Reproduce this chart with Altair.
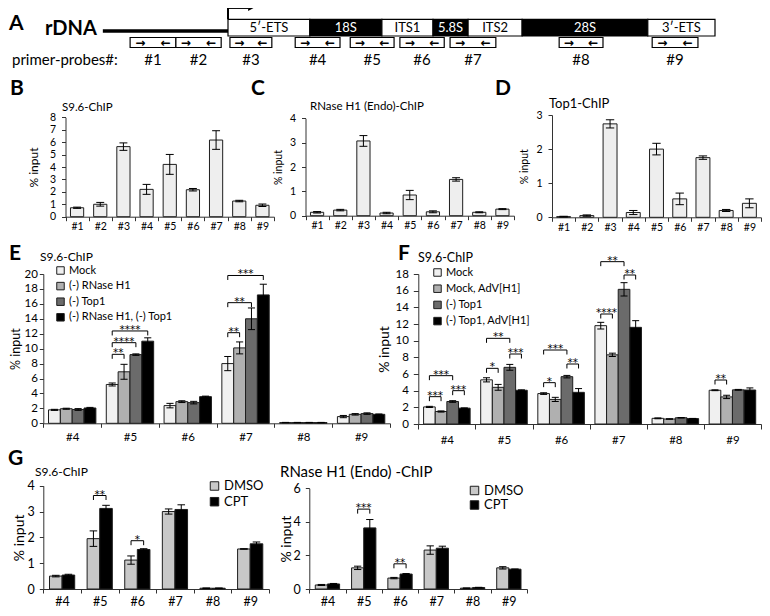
import altair as alt
import pandas as pd

W, H = 754, 600
FONT = "Lato"
AST_FONT = "DejaVu Sans"
AXC = "#333333"
EDGE = "#1e1e1e"

# ---------------- Panel A: rDNA schematic (schematic units, transcribed unit = 0..100)
A_segments = ["5′-ETS", "18S", "ITS1", "5.8S", "ITS2", "28S", "3′-ETS"]
A_seg_kind = ["spacer", "rRNA", "spacer", "rRNA", "spacer", "rRNA", "spacer"]
A_seg_start = [0.0, 16.8, 31.6, 42.1, 49.3, 60.4, 86.2]
A_seg_end = [16.8, 31.6, 42.1, 49.3, 60.4, 86.2, 100.0]
A_upstream_start = -25.7
A_tss = 0.0
A_primers = ["#1", "#2", "#3", "#4", "#5", "#6", "#7", "#8", "#9"]
A_primer_start = [-20.1, -10.7, 0.4, 13.8, 25.1, 35.3, 45.6, 68.0, 87.1]
A_primer_end = [-10.7, -1.4, 9.0, 23.0, 34.1, 44.4, 55.0, 77.0, 96.5]

# ---------------- Panels B, C, D
BCD_probes = ["#1", "#2", "#3", "#4", "#5", "#6", "#7", "#8", "#9"]
B_values = [0.72, 1.0, 5.64, 2.2, 4.21, 2.17, 6.17, 1.26, 0.92]
B_errors = [0.05, 0.15, 0.3, 0.4, 0.8, 0.1, 0.75, 0.06, 0.1]
C_values = [0.14, 0.23, 3.07, 0.11, 0.85, 0.16, 1.49, 0.14, 0.27]
C_errors = [0.03, 0.03, 0.22, 0.03, 0.19, 0.04, 0.07, 0.02, 0.02]
D_values = [0.02, 0.05, 2.74, 0.14, 2.0, 0.54, 1.75, 0.2, 0.41]
D_errors = [0.01, 0.02, 0.12, 0.06, 0.17, 0.17, 0.05, 0.03, 0.13]

# ---------------- Panels E, F, G
EFG_probes = ["#4", "#5", "#6", "#7", "#8", "#9"]

E_series = ["Mock", "(-) RNase H1", "(-) Top1", "(-) RNase H1, (-) Top1"]
E_mock = [1.8, 5.2, 2.37, 8.0, 0.1, 0.9]
E_mock_err = [0.07, 0.2, 0.3, 0.95, 0.02, 0.15]
E_rnh = [1.95, 6.9, 2.9, 10.1, 0.1, 1.2]
E_rnh_err = [0.07, 1.0, 0.12, 0.8, 0.02, 0.1]
E_top1 = [1.85, 9.2, 2.77, 14.0, 0.1, 1.3]
E_top1_err = [0.12, 0.1, 0.17, 1.45, 0.02, 0.1]
E_both = [2.05, 11.0, 3.57, 17.2, 0.1, 1.2]
E_both_err = [0.08, 0.45, 0.07, 1.43, 0.02, 0.05]
E_sig_probe = ["#5", "#5", "#5", "#7", "#7", "#7"]
E_sig_from = ["Mock"] * 6
E_sig_to = ["(-) RNase H1", "(-) Top1", "(-) RNase H1, (-) Top1",
            "(-) RNase H1", "(-) Top1", "(-) RNase H1, (-) Top1"]
E_sig_height = [9.24, 10.8, 12.37, 12.14, 16.16, 19.8]
E_sig_label = ["**", "****", "****", "**", "**", "***"]

F_series = ["Mock", "Mock, AdV[H1]", "(-) Top1", "(-) Top1, AdV[H1]"]
F_mock = [2.05, 5.3, 3.65, 11.8, 0.68, 4.05]
F_mock_err = [0.07, 0.25, 0.1, 0.4, 0.05, 0.05]
F_adv = [1.5, 4.4, 2.95, 8.3, 0.6, 3.25]
F_adv_err = [0.07, 0.35, 0.25, 0.2, 0.03, 0.2]
F_top1 = [2.7, 6.8, 5.68, 16.16, 0.75, 4.1]
F_top1_err = [0.1, 0.35, 0.15, 0.8, 0.03, 0.05]
F_both = [1.9, 4.05, 3.8, 11.6, 0.65, 4.08]
F_both_err = [0.03, 0.05, 0.45, 0.8, 0.02, 0.25]
F_sig_probe = ["#4", "#4", "#4", "#5", "#5", "#5", "#6", "#6", "#6", "#7", "#7", "#7", "#9"]
F_sig_from = ["Mock", "Mock", "(-) Top1", "Mock", "Mock", "(-) Top1", "Mock", "Mock", "(-) Top1",
              "Mock", "Mock", "(-) Top1", "Mock"]
F_sig_to = ["Mock, AdV[H1]", "(-) Top1", "(-) Top1, AdV[H1]",
            "Mock, AdV[H1]", "(-) Top1", "(-) Top1, AdV[H1]",
            "Mock, AdV[H1]", "(-) Top1", "(-) Top1, AdV[H1]",
            "Mock, AdV[H1]", "(-) Top1", "(-) Top1, AdV[H1]",
            "Mock, AdV[H1]"]
F_sig_height = [3.28, 5.8, 4.0, 6.68, 10.28, 8.4, 4.96, 8.88, 7.2, 13.2, 19.48, 17.88, 5.28]
F_sig_label = ["***", "***", "***", "*", "**", "***", "*", "***", "**", "****", "**", "**", "**"]

G_series = ["DMSO", "CPT"]
G1_dmso = [0.50, 1.95, 1.12, 3.0, 0.03, 1.55]
G1_dmso_err = [0.03, 0.3, 0.16, 0.1, 0.01, 0.01]
G1_cpt = [0.54, 3.12, 1.53, 3.08, 0.03, 1.75]
G1_cpt_err = [0.03, 0.12, 0.03, 0.18, 0.01, 0.07]
G1_sig_probe = ["#5", "#6"]
G1_sig_height = [3.62, 1.87]
G1_sig_label = ["**", "*"]

G2_dmso = [0.24, 1.26, 0.65, 2.32, 0.05, 1.26]
G2_dmso_err = [0.03, 0.1, 0.04, 0.25, 0.01, 0.07]
G2_cpt = [0.30, 3.64, 0.89, 2.43, 0.09, 1.18]
G2_cpt_err = [0.03, 0.5, 0.03, 0.12, 0.01, 0.01]
G2_sig_probe = ["#5", "#6"]
G2_sig_height = [4.76, 1.5]
G2_sig_label = ["***", "**"]

PANEL_TITLES = ["S9.6-ChIP", "RNase H1 (Endo)-ChIP", "Top1-ChIP", "S9.6-ChIP", "S9.6-ChIP",
                "S9.6-ChIP", "RNase H1 (Endo) -ChIP"]
PANEL_LETTERS = ["A", "B", "C", "D", "E", "F", "G"]


# ---------------- helpers
def text_label(text, x, y, size, weight="normal", font=FONT, align="left", baseline="middle"):
    return alt.Chart(pd.DataFrame({"t": [text]})).mark_text(
        x=x, y=y, fontSize=size, fontWeight=weight, font=font, align=align,
        baseline=baseline, color="black").encode(text="t:N")


def bar_panel(cats, series, vals, errs, colors, xr, yr, ydom, yticks, group_frac,
              tick_fs, xlab_pad, ylab_pad, tick_size, ytitle_fs, ytitle_pad,
              legend=None, sig=None):
    ns = len(series)
    bw = group_frac / ns
    cw = bw * 0.6
    n = len(cats)
    rows = []
    for si, s in enumerate(series):
        for gi, c in enumerate(cats):
            xc = gi + (si - (ns - 1) / 2.0) * bw
            v = vals[si][gi]
            e = errs[si][gi]
            rows.append(dict(series=s, probe=c, value=v, err=e, xc=xc,
                             xl=xc - bw / 2, xr=xc + bw / 2, cl=xc - cw / 2, cr=xc + cw / 2,
                             lo=v - e, hi=v + e, base=0.0))
    df = pd.DataFrame(rows)
    xs = alt.Scale(domain=[-0.5, n - 0.5], range=list(xr), nice=False, zero=False)
    ys = alt.Scale(domain=list(ydom), range=list(yr), nice=False, zero=False)
    lab_arr = "[" + ",".join("'" + c + "'" for c in cats) + "]"
    xaxis = alt.Axis(
        orient="bottom", offset=yr[0] - H,
        values=[k - 0.5 for k in range(n + 1)] + list(range(n)),
        labelExpr=f"datum.value % 1 === 0 ? {lab_arr}[datum.value] : ''",
        tickOpacity={"condition": {"test": "datum.value % 1 === 0", "value": 0}, "value": 1},
        tickSize=tick_size, labelPadding=xlab_pad, labelFont=FONT, labelFontSize=tick_fs,
        labelColor="black", labelOverlap=False, labelFlush=False, labelAngle=0,
        domainColor=AXC, tickColor=AXC, grid=False, title=None)
    yaxis = alt.Axis(
        orient="left", offset=-xr[0], values=yticks, format="d",
        tickSize=tick_size, labelPadding=ylab_pad, labelFont=FONT, labelFontSize=tick_fs,
        labelColor="black", labelOverlap=False, labelFlush=False,
        domainColor=AXC, tickColor=AXC, grid=False, title="% input",
        titleFont=FONT, titleFontSize=ytitle_fs, titleFontWeight="normal",
        titleColor="black", titlePadding=ytitle_pad)

    if ns > 1:
        bars = alt.Chart(df).mark_bar(stroke=EDGE, strokeWidth=1).encode(
            x=alt.X("xl:Q", scale=xs, axis=xaxis), x2=alt.X2("xr:Q"),
            y=alt.Y("value:Q", scale=ys, axis=yaxis), y2=alt.Y2("base:Q"),
            color=alt.Color("series:N", scale=alt.Scale(domain=series, range=colors),
                            legend=legend, sort=series))
    else:
        bars = alt.Chart(df).mark_bar(stroke=EDGE, strokeWidth=1, fill=colors[0]).encode(
            x=alt.X("xl:Q", scale=xs, axis=xaxis), x2=alt.X2("xr:Q"),
            y=alt.Y("value:Q", scale=ys, axis=yaxis), y2=alt.Y2("base:Q"))
    err = alt.Chart(df).mark_rule(color="black", strokeWidth=1).encode(
        x=alt.X("xc:Q", scale=xs, axis=None),
        y=alt.Y("lo:Q", scale=ys, axis=None), y2=alt.Y2("hi:Q"))
    cap_hi = alt.Chart(df).mark_rule(color="black", strokeWidth=1).encode(
        x=alt.X("cl:Q", scale=xs, axis=None), x2=alt.X2("cr:Q"),
        y=alt.Y("hi:Q", scale=ys, axis=None))
    cap_lo = alt.Chart(df).mark_rule(color="black", strokeWidth=1).encode(
        x=alt.X("cl:Q", scale=xs, axis=None), x2=alt.X2("cr:Q"),
        y=alt.Y("lo:Q", scale=ys, axis=None))
    layers = [bars, err, cap_hi, cap_lo]

    if sig is not None:
        probes, s_from, s_to, heights, labels = sig
        leg = (ydom[1] - ydom[0]) * 4.5 / (yr[0] - yr[1])
        brows = []
        for p, a, b, hgt, lab in zip(probes, s_from, s_to, heights, labels):
            gi = cats.index(p)
            x1 = gi + (series.index(a) - (ns - 1) / 2.0) * bw
            x2 = gi + (series.index(b) - (ns - 1) / 2.0) * bw
            brows.append(dict(x1=x1, x2=x2, xm=(x1 + x2) / 2, y=hgt, yl=hgt - leg, lab=lab))
        bdf = pd.DataFrame(brows)
        top = alt.Chart(bdf).mark_rule(color="black", strokeWidth=1).encode(
            x=alt.X("x1:Q", scale=xs, axis=None), x2=alt.X2("x2:Q"),
            y=alt.Y("y:Q", scale=ys, axis=None))
        left = alt.Chart(bdf).mark_rule(color="black", strokeWidth=1).encode(
            x=alt.X("x1:Q", scale=xs, axis=None),
            y=alt.Y("yl:Q", scale=ys, axis=None), y2=alt.Y2("y:Q"))
        right = alt.Chart(bdf).mark_rule(color="black", strokeWidth=1).encode(
            x=alt.X("x2:Q", scale=xs, axis=None),
            y=alt.Y("yl:Q", scale=ys, axis=None), y2=alt.Y2("y:Q"))
        stars = alt.Chart(bdf).mark_text(font=AST_FONT, fontSize=10.5, baseline="alphabetic",
                                         dy=2, color="black").encode(
            x=alt.X("xm:Q", scale=xs, axis=None),
            y=alt.Y("y:Q", scale=ys, axis=None), text="lab:N")
        layers += [top, left, right, stars]
    return layers


def legend(x, y, fs, row_pad, sym):
    return alt.Legend(orient="none", legendX=x, legendY=y, title=None, symbolType="square",
                      symbolSize=sym, symbolStrokeColor=EDGE, symbolStrokeWidth=1,
                      labelFont=FONT, labelFontSize=fs, labelColor="black",
                      rowPadding=row_pad, padding=0, labelOffset=3, direction="vertical")


# ---------------- Panel A
axs = alt.Scale(domain=[0, 100], range=[220, 707], nice=False, zero=False)
ays = alt.Scale(domain=[0, 1], range=[11.3, 28.0], nice=False, zero=False)
LANE_LINE, LANE_P0, LANE_P1, LANE_LAB, LANE_TSS = 0.70, 1.09, 1.69, 2.44, -0.68

seg_df = pd.DataFrame(dict(name=A_segments, kind=A_seg_kind, start=A_seg_start, end=A_seg_end))
seg_df["mid"] = (seg_df["start"] + seg_df["end"]) / 2
seg_df["top"] = 0.0
seg_df["bot"] = 1.0
seg_df["ym"] = 0.5

pr_df = pd.DataFrame(dict(name=A_primers, start=A_primer_start, end=A_primer_end))
pr_df["mid"] = (pr_df["start"] + pr_df["end"]) / 2
pr_df["y0"] = LANE_P0
pr_df["y1"] = LANE_P1
pr_df["lab"] = LANE_LAB

arrow_rows = []
for s, e in zip(A_primer_start, A_primer_end):
    w = e - s
    arrow_rows.append(dict(x=s + 0.22 * w, g="→", y=(LANE_P0 + LANE_P1) / 2))
    arrow_rows.append(dict(x=e - 0.22 * w, g="←", y=(LANE_P0 + LANE_P1) / 2))
arr_df = pd.DataFrame(arrow_rows)

igs_df = pd.DataFrame(dict(start=[A_upstream_start], end=[A_tss], y=[LANE_LINE]))
tss_v = pd.DataFrame(dict(x=[A_tss], y0=[0.0], y1=[LANE_TSS]))
tss_h = pd.DataFrame(dict(x0=[A_tss], x1=[A_tss + 4.2], y=[LANE_TSS]))
tss_tip = pd.DataFrame(dict(x=[A_tss + 4.7], y=[LANE_TSS]))

panelA = [
    alt.Chart(igs_df).mark_rule(strokeWidth=3.5, color="black").encode(
        x=alt.X("start:Q", scale=axs, axis=None), x2=alt.X2("end:Q"),
        y=alt.Y("y:Q", scale=ays, axis=None)),
    alt.Chart(seg_df).mark_rect(stroke="black", strokeWidth=1.2).encode(
        x=alt.X("start:Q", scale=axs, axis=None), x2=alt.X2("end:Q"),
        y=alt.Y("top:Q", scale=ays, axis=None), y2=alt.Y2("bot:Q"),
        fill=alt.Fill("kind:N", scale=alt.Scale(domain=["spacer", "rRNA"], range=["white", "black"]),
                      legend=None)),
    alt.Chart(seg_df).mark_text(font=FONT, fontSize=13).encode(
        x=alt.X("mid:Q", scale=axs, axis=None), y=alt.Y("ym:Q", scale=ays, axis=None),
        text="name:N",
        color=alt.Color("kind:N", scale=alt.Scale(domain=["spacer", "rRNA"], range=["black", "white"]),
                        legend=None)),
    alt.Chart(pr_df).mark_rect(fill="white", stroke="black", strokeWidth=1.2).encode(
        x=alt.X("start:Q", scale=axs, axis=None), x2=alt.X2("end:Q"),
        y=alt.Y("y0:Q", scale=ays, axis=None), y2=alt.Y2("y1:Q")),
    alt.Chart(arr_df).mark_text(font="DejaVu Sans", fontWeight="bold", fontSize=12, color="black").encode(
        x=alt.X("x:Q", scale=axs, axis=None), y=alt.Y("y:Q", scale=ays, axis=None), text="g:N"),
    alt.Chart(pr_df).mark_text(font=FONT, fontSize=15, color="black").encode(
        x=alt.X("mid:Q", scale=axs, axis=None), y=alt.Y("lab:Q", scale=ays, axis=None), text="name:N"),
    alt.Chart(tss_v).mark_rule(strokeWidth=2, color="black").encode(
        x=alt.X("x:Q", scale=axs, axis=None), y=alt.Y("y0:Q", scale=ays, axis=None), y2=alt.Y2("y1:Q")),
    alt.Chart(tss_h).mark_rule(strokeWidth=2, color="black").encode(
        x=alt.X("x0:Q", scale=axs, axis=None), x2=alt.X2("x1:Q"), y=alt.Y("y:Q", scale=ays, axis=None)),
    alt.Chart(tss_tip).mark_point(shape="triangle-right", filled=True, size=40, color="black", opacity=1).encode(
        x=alt.X("x:Q", scale=axs, axis=None), y=alt.Y("y:Q", scale=ays, axis=None)),
]

# ---------------- bar panels
panelB = bar_panel(BCD_probes, ["B"], [B_values], [B_errors], ["#eeeeee"],
                   (57.5, 266), (208.7, 109.3), (0, 8), list(range(0, 9)), 0.57,
                   10.5, 1, 6, 4, 12, 9)
panelC = bar_panel(BCD_probes, ["C"], [C_values], [C_errors], ["#eeeeee"],
                   (297.5, 506), (207.7, 110.3), (0, 4), list(range(0, 5)), 0.57,
                   10.5, 1, 6, 4, 10.5, 6)
panelD = bar_panel(BCD_probes, ["D"], [D_values], [D_errors], ["#eeeeee"],
                   (544, 753), (209.3, 107), (0, 3), list(range(0, 4)), 0.6,
                   10.5, 1, 6, 4, 10.5, 6)

gray4 = ["#f0f0f0", "#b0b0b0", "#6b6b6b", "#000000"]
panelE = bar_panel(EFG_probes, E_series, [E_mock, E_rnh, E_top1, E_both],
                   [E_mock_err, E_rnh_err, E_top1_err, E_both_err], gray4,
                   (35.3, 382), (415.3, 266), (0, 20), list(range(0, 21, 2)), 0.82,
                   11.5, 4, 2, 4, 12.5, 1,
                   legend=legend(47, 257, 11, 2.6, 56),
                   sig=(E_sig_probe, E_sig_from, E_sig_to, E_sig_height, E_sig_label))
panelF = bar_panel(EFG_probes, F_series, [F_mock, F_adv, F_top1, F_both],
                   [F_mock_err, F_adv_err, F_top1_err, F_both_err], gray4,
                   (410.3, 753), (416, 266), (0, 18), list(range(0, 19, 2)), 0.815,
                   11.5, 5, 5, 5, 14, 3,
                   legend=legend(424, 259, 11, 3.2, 56),
                   sig=(F_sig_probe, F_sig_from, F_sig_to, F_sig_height, F_sig_label))
grayG = ["#c8c8c8", "#000000"]
panelG1 = bar_panel(EFG_probes, G_series, [G1_dmso, G1_cpt], [G1_dmso_err, G1_cpt_err], grayG,
                    (35.3, 261), (581, 477.7), (0, 4), list(range(0, 5)), 0.67,
                    12.5, 2, 5, 4, 14, 1,
                    legend=legend(200, 471.5, 13, 1.7, 72),
                    sig=(G1_sig_probe, ["DMSO"] * 2, ["CPT"] * 2, G1_sig_height, G1_sig_label))
panelG2 = bar_panel(EFG_probes, G_series, [G2_dmso, G2_cpt], [G2_dmso_err, G2_cpt_err], grayG,
                    (301.3, 519), (581, 480.3), (0, 6), [0, 2, 4, 6], 0.67,
                    12.5, 2, 5, 4, 14, 0,
                    legend=legend(460, 476, 13, 0.5, 72),
                    sig=(G2_sig_probe, ["DMSO"] * 2, ["CPT"] * 2, G2_sig_height, G2_sig_label))

# ---------------- annotations
title_pos = [(54, 100, 11.5), (302, 99, 11.5), (541, 96, 13), (32, 249, 12),
             (410, 250, 12.5), (27, 464, 12), (272, 464, 15)]
letter_pos = [(1, 22), (2, 87), (243, 87), (487, 87), (1, 252), (390, 252), (0, 457)]
notes = []
for t, (x, y, s) in zip(PANEL_TITLES, title_pos):
    notes.append(text_label(t, x, y, s))
for t, (x, y) in zip(PANEL_LETTERS, letter_pos):
    notes.append(text_label(t, x, y, 21, weight="bold", baseline="alphabetic"))
notes.append(text_label("rDNA", 37, 21, 20, weight="bold"))
notes.append(text_label("primer-probes#:", 4, 52, 15))

all_layers = (panelA + panelB + panelC + panelD + panelE + panelF + panelG1 + panelG2 + notes)

chart = alt.layer(*all_layers).resolve_scale(
    x="independent", y="independent", color="independent", fill="independent"
).properties(
    width=W, height=H, autosize=alt.AutoSizeParams(type="none"), padding=0
).configure_view(strokeWidth=0)

chart.save("out.html", embed_options={"renderer": "svg", "actions": False})
